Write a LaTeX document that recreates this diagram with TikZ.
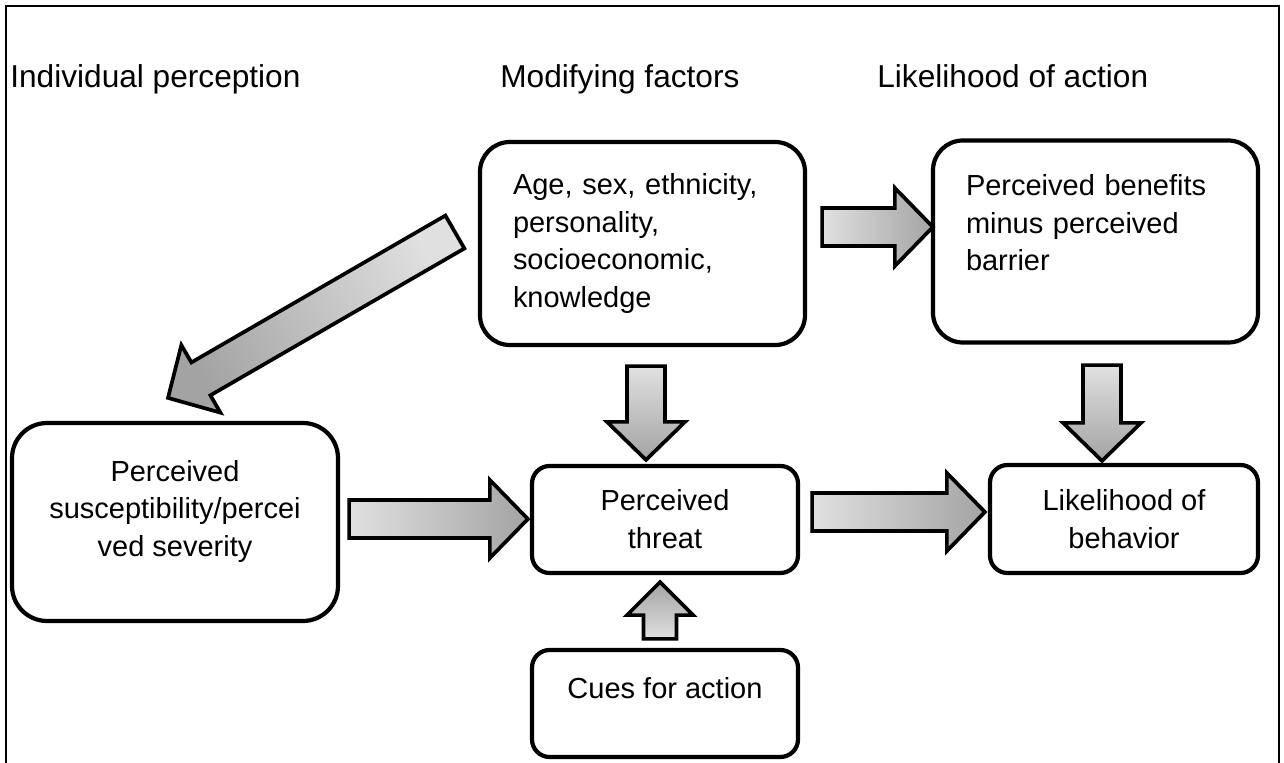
\documentclass[tikz,border=0pt]{standalone}
\usepackage{fontspec}
\setmainfont{Liberation Sans}
\usetikzlibrary{calc}

\newcommand{\fashaft}{3.8mm}
\newcommand{\fawing}{7.8mm}
\newcommand{\fahead}{7.6mm}
% block arrow from #1 to the tip #2, shaded at angle #3
\newcommand{\fatarrow}[3]{%
        \coordinate (fa-b) at ($(#2)!\fahead!(#1)$);
        \draw[fatarrow, shading angle=#3]
                ($(#1)!\fashaft!90:(#2)$) -- ($(fa-b)!\fashaft!-90:(#1)$) --
                ($(fa-b)!\fawing!-90:(#1)$) -- (#2) --
                ($(fa-b)!\fawing!90:(#1)$) -- ($(fa-b)!\fashaft!90:(#1)$) --
                ($(#1)!\fashaft!-90:(#2)$) -- cycle;
}

\begin{document}
\begin{tikzpicture}[x=0.2mm,y=-0.2mm]
        \tikzstyle{heading} = [anchor=base west, inner sep=0pt, font=\fontsize{18}{21.6}\selectfont]
        \tikzstyle{factor} = [draw, line width=2.4pt, rounded corners=10pt, inner sep=0pt, align=center, font=\fontsize{16.5}{21.5}\selectfont]
        \tikzstyle{leftfactor} = [factor, rounded corners=17pt, align=left, inner xsep=6.6mm, text width=51.8mm]
        \tikzstyle{fatarrow} = [draw, line width=2.1pt, top color=black!12, bottom color=black!36]

        \useasboundingbox (0,0) rectangle (1284,763);
        \draw[line width=1.1pt] (6,763) -- (6,6) -- (1279,6) -- (1279,763);

        \node[heading] (hind) at (10,87) {Individual perception};
        \node[heading] (hmod) at (500,87) {Modifying factors};
        \node[heading] (hlik) at (877,87) {Likelihood of action};

        \node[leftfactor, minimum height=40.6mm] (mod) at (642.5,243.5) {Age, sex, ethnicity,\\personality,\\socioeconomic,\\knowledge};
        \node[leftfactor, minimum height=40.4mm] (ben) at (1095.5,241.5) {Perceived benefits\\minus perceived\\barrier\\\mbox{}};
        \node[factor, rounded corners=20pt, minimum width=65.2mm, minimum height=39.6mm] (susc) at (175,522) {Perceived\\susceptibility/percei\\ved severity\\[-6pt]\mbox{}};
        \node[factor, minimum width=53.2mm, minimum height=21.4mm] (threat) at (665,519.5) {Perceived\\threat};
        \node[factor, minimum width=53.6mm, minimum height=21.6mm] (beh) at (1124,519) {Likelihood of\\behavior};
        \node[factor, minimum width=53.2mm, minimum height=21.4mm] (cues) at (665,703.5) {Cues for action\\[-4pt]\mbox{}};

        % arrow ends
        \coordinate (m1) at ($(mod.west) + (-23,-11.5)$);
        \coordinate (s1) at ($(susc.north) + (-7,-23)$);
        \coordinate (m2) at ($(mod.east) + (15,-16.5)$);
        \coordinate (b1) at ($(ben.west) + (2,-14.5)$);
        \coordinate (m3) at ($(mod.south) + (3.5,19)$);
        \coordinate (t1) at ($(threat.north) + (-19,-4)$);
        \coordinate (s2) at ($(susc.east) + (9,-3)$);
        \coordinate (t2) at ($(threat.west) + (-2,-0.5)$);
        \coordinate (t3) at ($(threat.east) + (12,-7.5)$);
        \coordinate (l1) at ($(beh.west) + (-3,-7)$);
        \coordinate (b2) at ($(ben.south) + (6.5,20.5)$);
        \coordinate (l2) at ($(beh.north) + (-22,-2)$);
        \coordinate (c1) at ($(cues.north) + (-5,-9)$);
        \coordinate (t4) at ($(threat.south) + (-5,7)$);

        \fatarrow{m1}{s1}{300}
        \fatarrow{m2}{b1}{90}
        \fatarrow{m3}{t1}{0}
        \fatarrow{s2}{t2}{90}
        \fatarrow{t3}{l1}{90}
        \fatarrow{b2}{l2}{0}
        {
                \renewcommand{\fashaft}{3.3mm}
                \renewcommand{\fawing}{6.6mm}
                \renewcommand{\fahead}{6.6mm}
                \fatarrow{c1}{t4}{180}
        }
\end{tikzpicture}
\end{document}
